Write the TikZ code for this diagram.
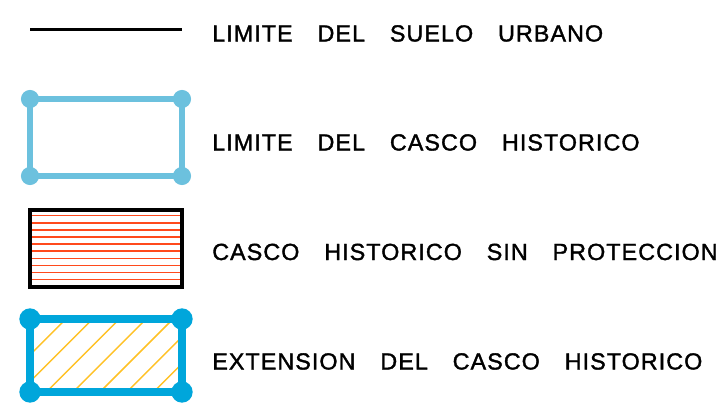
\documentclass[tikz,border=0pt]{standalone}
\usepackage{fontspec}
\usepackage{tikz}
\usetikzlibrary{positioning,calc}
\newfontfamily\lgfont{Liberation Sans}[LetterSpace=4.5,WordSpace=3.3,FakeBold=1.5]
\definecolor{lgurbline}{HTML}{000000}
\definecolor{lghistline}{HTML}{6CC1DE}
\definecolor{lgsinline}{HTML}{FF4A1C}
\definecolor{lgextline}{HTML}{00A6DB}
\definecolor{lgexthatch}{HTML}{FFC125}
\tikzset{lgurban/.style={draw=lgurbline, line width=1.9pt}}
\tikzset{lghist/.style={draw=lghistline, line width=5.2pt}}
\tikzset{lghistdot/.style={fill=lghistline}}
\tikzset{lgsin/.style={draw=black, line width=2.6pt}}
\tikzset{lgsinrule/.style={draw=lgsinline, line width=1.1pt}}
\tikzset{lgext/.style={draw=lgextline, line width=6pt}}
\tikzset{lgextdot/.style={fill=lgextline}}
\tikzset{lgexthatch/.style={draw=lgexthatch, line width=1.1pt}}
\tikzset{lglabel/.style={anchor=base west, inner sep=0pt, font=\lgfont\fontsize{17.5pt}{20pt}\selectfont}}

\begin{document}
\begin{tikzpicture}[x=0.75pt,y=-0.75pt]
  \useasboundingbox (0,0) rectangle (724,404);

  % limite del suelo urbano
  \coordinate (urbA) at (30,29.5);
  \coordinate (urbB) at (182,29.5);
  \draw[lgurban] (urbA) -- (urbB);
  \node[lglabel] (urblabel) at (212,41.5) {LIMITE DEL SUELO URBANO};

  % limite del casco historico
  \coordinate (histA) at (30,99);
  \coordinate (histB) at (182,176);
  \draw[lghist] (histA) rectangle (histB);
  \foreach \c in {(histA),(histB),(histA -| histB),(histA |- histB)}
    \fill[lghistdot] \c circle[radius=6.8pt];
  \node[lglabel] (histlabel) at (212,150.5) {LIMITE DEL CASCO HISTORICO};

  % casco historico sin proteccion
  \coordinate (sinA) at (30,210);
  \coordinate (sinB) at (182,287);
  \foreach \k in {0,...,9}
    \draw[lgsinrule] (30,215.7+7.1*\k) -- (182,215.7+7.1*\k);
  \draw[lgsin] (sinA) rectangle (sinB);
  \node[lglabel] (sinlabel) at (212,260) {CASCO HISTORICO SIN PROTECCION};

  % extension del casco historico
  \coordinate (extA) at (30,319);
  \coordinate (extB) at (182,392);
  \begin{scope}
    \clip (extA) rectangle (extB);
    \foreach \k in {0,...,8}
      \draw[lgexthatch] ({39+26.8*\k},319) -- ({39+26.8*\k-110},429);
  \end{scope}
  \draw[lgext] (extA) rectangle (extB);
  \foreach \c in {(extA),(extB),(extA -| extB),(extA |- extB)}
    \fill[lgextdot] \c circle[radius=8pt];
  \node[lglabel] (extlabel) at (212,369.5) {EXTENSION DEL CASCO HISTORICO};
\end{tikzpicture}
\end{document}
